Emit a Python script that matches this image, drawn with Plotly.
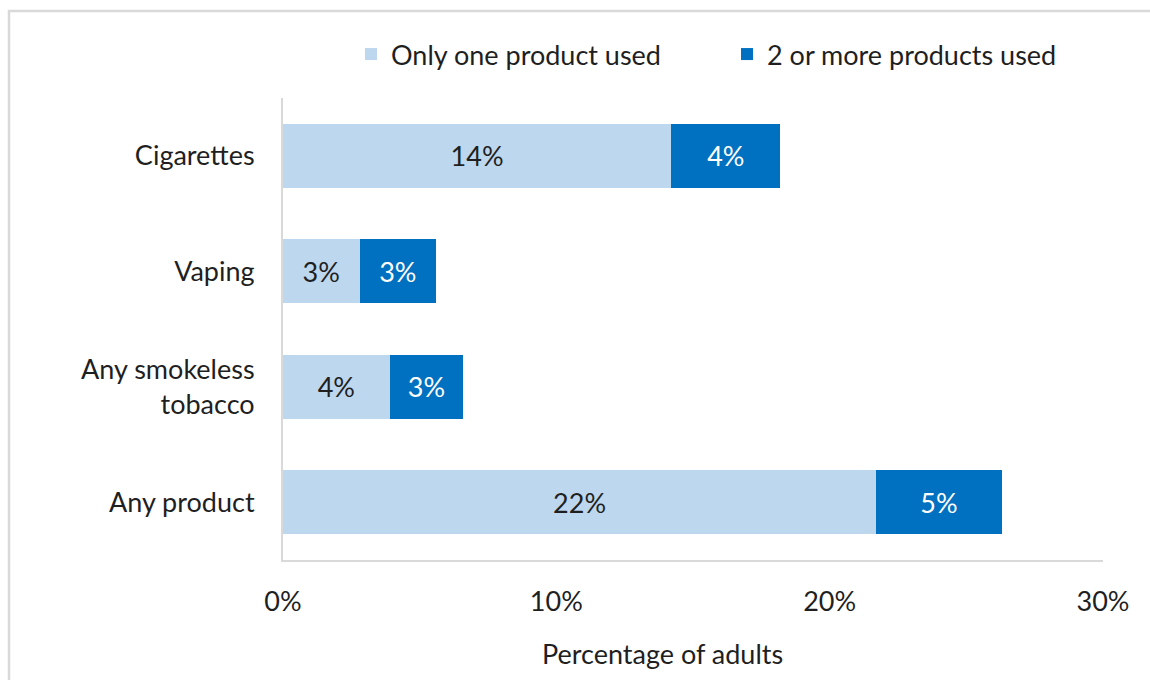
import plotly.graph_objects as go

categories = ["Cigarettes", "Vaping", "Any smokeless<br>tobacco", "Any product"]
only_one = [14.2, 2.8, 3.9, 21.7]
two_or_more = [4.0, 2.8, 2.7, 4.6]
series_names = ["Only one product used", "2 or more products used"]
tick_vals = [0, 10, 20, 30]
tick_text = ["0%", "10%", "20%", "30%"]
x_title = "Percentage of adults"

FONT = "Lato"
TXT = "#1f1f1f"
FS = 27

W, H = 1150, 680
L, R, T, B = 283, 47, 98, 120
pw, ph = W - L - R, H - T - B

fig = go.Figure()
fig.add_trace(go.Bar(
    y=categories, x=only_one, orientation="h", name=series_names[0],
    marker=dict(color="#BDD7EE", line=dict(width=0)),
    texttemplate="%{x:.0f}%", textposition="inside", insidetextanchor="middle",
    textfont=dict(color=TXT, size=FS, family=FONT), hoverinfo="x+y",
))
fig.add_trace(go.Bar(
    y=categories, x=two_or_more, orientation="h", name=series_names[1],
    marker=dict(color="#0070C0", line=dict(width=0)),
    texttemplate="%{x:.0f}%", textposition="inside", insidetextanchor="middle",
    textfont=dict(color="white", size=FS, family=FONT), hoverinfo="x+y",
))

def px_x(p):
    return (p - L) / pw

def px_y(p):
    return (H - B - p) / ph

fig.update_layout(
    width=W, height=H,
    margin=dict(l=L, r=R, t=T, b=B, pad=0),
    barmode="stack", bargap=0.45,
    plot_bgcolor="white", paper_bgcolor="white",
    font=dict(family=FONT, size=FS, color=TXT),
    uniformtext=dict(mode="show", minsize=10),
    showlegend=True,
    legend=dict(orientation="h", x=px_x(351), y=px_y(30), xanchor="left", yanchor="top",
                font=dict(size=FS, family=FONT, color=TXT), traceorder="normal",
                entrywidth=331, entrywidthmode="pixels", itemclick=False,
                bgcolor="rgba(0,0,0,0)"),
    xaxis=dict(range=[0, 30], tickvals=tick_vals, ticktext=tick_text, showgrid=False,
               zeroline=False, showline=True, linecolor="#D9D9D9", linewidth=2,
               ticks="", ticklabelstandoff=17, tickfont=dict(size=FS)),
    yaxis=dict(categoryorder="array", categoryarray=categories, autorange="reversed",
               showgrid=False, zeroline=False, showline=True, linecolor="#D9D9D9",
               linewidth=2, ticks="", ticklabelstandoff=21, tickfont=dict(size=FS)),
    annotations=[dict(text=x_title, xref="paper", yref="paper", x=px_x(662), y=px_y(653),
                      xanchor="center", yanchor="middle", showarrow=False,
                      font=dict(size=FS, family=FONT, color=TXT))],
    shapes=[dict(type="rect", xref="paper", yref="paper",
                 x0=px_x(9), x1=px_x(1170), y0=px_y(700), y1=px_y(11),
                 line=dict(color="#D9D9D9", width=2.5), fillcolor="rgba(0,0,0,0)", layer="below")],
)

fig.write_html("out.html")
